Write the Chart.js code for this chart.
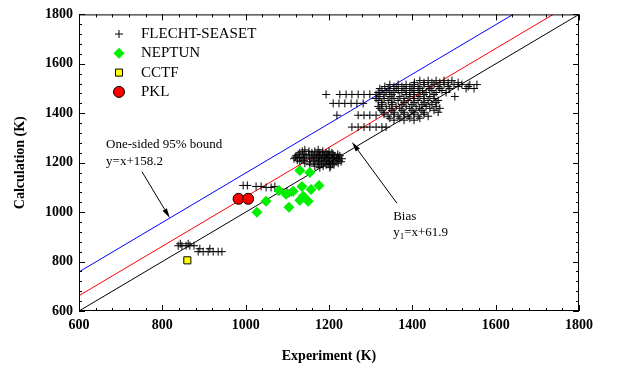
<!DOCTYPE html>
<html>
<head>
<meta charset="utf-8">
<script src="https://cdn.jsdelivr.net/npm/chart.js@4.4.1/dist/chart.umd.min.js"></script>
<style>
  html, body { margin: 0; padding: 0; background: #fff; }
  #chart { display: block; }
</style>
</head>
<body>
<canvas id="chart" width="619" height="370"></canvas>
<script>
// axis ticks (K)
const tickValues = [600, 800, 1000, 1200, 1400, 1600, 1800];
const minorStep = 40;

// fitted lines: y = x + offset
const biasOffset = 61.9;
const boundOffset = 158.2;

// FLECHT-SEASET, experiment vs calculation (K), row by row
const flechtExp = [
  838, 847, 857, 866, 876, 843, 862,
  886, 898, 910, 922, 934, 943, 890, 914,
  994, 1004, 1025, 1037, 1049, 1061, 1070,
  1078, 1090, 1099, 1104, 1109,
  1142, 1174,
  1136, 1152, 1166, 1185, 1200,
  1130, 1159, 1178, 1193, 1207,
  1126, 1140, 1152, 1171, 1184, 1197, 1210, 1221,
  1121, 1145, 1164, 1178, 1190, 1202, 1214, 1226,
  1119, 1130, 1140, 1159, 1174, 1188, 1198, 1210, 1222,
  1116, 1135, 1154, 1169, 1183, 1195, 1207, 1219, 1231,
  1124, 1140, 1164, 1178, 1193, 1210, 1224,
  1130, 1154, 1174, 1188, 1202, 1217, 1229,
  1142, 1164, 1182, 1198, 1208, 1222,
  1154, 1174, 1193, 1212,
  1166, 1186, 1204,
  1178, 1202,
  1193,
  1226, 1241, 1255, 1270, 1284, 1298,
  1210, 1224, 1238, 1253, 1267, 1282,
  1219,
  1270, 1284, 1298, 1313,
  1255, 1270, 1284, 1298, 1313, 1327, 1337,
  1418, 1438, 1457, 1476, 1495,
  1405, 1428, 1447, 1466, 1486, 1510,
  1346, 1366, 1385, 1404, 1428, 1452, 1476, 1500, 1519, 1538, 1555,
  1334, 1356, 1375, 1394, 1414, 1438, 1462, 1486, 1510, 1534,
  1322, 1342, 1361, 1380, 1399, 1418, 1442, 1466, 1490, 1529, 1548,
  1327, 1346, 1366, 1385, 1404, 1424, 1447, 1471,
  1318, 1337, 1356, 1375, 1394, 1414, 1433, 1457, 1481,
  1313, 1332, 1351, 1385, 1404, 1428, 1452,
  1322, 1346, 1370, 1394, 1418, 1442, 1502,
  1313, 1332, 1356, 1380, 1404, 1428, 1452,
  1318, 1342, 1366, 1390, 1414, 1438, 1462,
  1327, 1351, 1380, 1404, 1428, 1457,
  1327, 1351, 1375, 1399, 1423, 1447,
  1318, 1337, 1361, 1385, 1409, 1433, 1457,
  1322, 1346, 1370, 1394, 1418, 1442, 1466,
  1327, 1351, 1375, 1399, 1423, 1452,
  1332, 1356, 1380, 1404, 1428, 1462,
  1332, 1356, 1380, 1404, 1428,
  1342, 1366, 1390, 1414, 1438,
  1346, 1370, 1394, 1418,
  1356, 1380, 1404
];
const flechtCalc = [
  864, 864, 864, 864, 864, 872, 872,
  840, 840, 840, 840, 840, 840, 852, 852,
  1108, 1108, 1104, 1104, 1100, 1100, 1104,
  1084, 1080, 1084, 1076, 1080,
  1252, 1252,
  1246, 1246, 1246, 1246, 1246,
  1240, 1240, 1240, 1240, 1240,
  1234, 1234, 1234, 1234, 1234, 1234, 1234, 1234,
  1228, 1228, 1228, 1228, 1228, 1228, 1228, 1228,
  1222, 1222, 1222, 1222, 1222, 1222, 1222, 1222, 1222,
  1216, 1216, 1216, 1216, 1216, 1216, 1216, 1216, 1216,
  1210, 1210, 1210, 1210, 1210, 1210, 1210,
  1204, 1204, 1204, 1204, 1204, 1204, 1204,
  1198, 1198, 1198, 1198, 1198, 1198,
  1192, 1192, 1192, 1192,
  1186, 1186, 1186,
  1180, 1180,
  1476,
  1476, 1476, 1476, 1476, 1476, 1476,
  1440, 1440, 1440, 1440, 1440, 1440,
  1392,
  1392, 1392, 1392, 1392,
  1344, 1344, 1344, 1344, 1344, 1344, 1344,
  1532, 1532, 1532, 1532, 1532,
  1524, 1524, 1524, 1524, 1524, 1524,
  1516, 1516, 1516, 1516, 1516, 1516, 1516, 1516, 1516, 1516, 1516,
  1508, 1508, 1508, 1508, 1508, 1508, 1508, 1508, 1508, 1508,
  1500, 1500, 1500, 1500, 1500, 1500, 1500, 1500, 1500, 1500, 1500,
  1492, 1492, 1492, 1492, 1492, 1492, 1492, 1492,
  1484, 1484, 1484, 1484, 1484, 1484, 1484, 1484, 1484,
  1476, 1476, 1476, 1476, 1476, 1476, 1476,
  1468, 1468, 1468, 1468, 1468, 1468, 1468,
  1460, 1460, 1460, 1460, 1460, 1460, 1460,
  1452, 1452, 1452, 1452, 1452, 1452, 1452,
  1444, 1444, 1444, 1444, 1444, 1444,
  1436, 1436, 1436, 1436, 1436, 1436,
  1428, 1428, 1428, 1428, 1428, 1428, 1428,
  1420, 1420, 1420, 1420, 1420, 1420, 1420,
  1412, 1412, 1412, 1412, 1412, 1412,
  1404, 1404, 1404, 1404, 1404, 1404,
  1396, 1396, 1396, 1396, 1396,
  1388, 1388, 1388, 1388, 1388,
  1380, 1380, 1380, 1380,
  1372, 1372, 1372
];

const neptunExp  = [1027, 1049, 1080, 1104, 1097, 1114, 1130, 1154, 1135, 1157, 1176, 1138, 1150, 1130];
const neptunCalc = [1000, 1044, 1088, 1020, 1072, 1084, 1168, 1160, 1104, 1092, 1108, 1064, 1044, 1048];

const cctfExp  = [860];
const cctfCalc = [805];

const pklExp  = [983, 1006];
const pklCalc = [1054, 1054];

const serif = "'Liberation Serif', 'Times New Roman', serif";
const tickFont = { family: serif, size: 14, weight: 'bold' };
const titleFont = { family: serif, size: 14, weight: 'bold' };

const toPoints = (xs, ys) => xs.map((x, i) => ({ x: x, y: ys[i] }));
const lineFor = (off) => [{ x: 600, y: 600 + off }, { x: 1800 - off, y: 1800 }];

const legendItems = [
  { label: 'FLECHT-SEASET', style: 'cross', radius: 4, fill: '#000', stroke: '#000', bw: 1 },
  { label: 'NEPTUN', style: 'rectRot', radius: 5.5, fill: '#00f000', stroke: '#00f000', bw: 0 },
  { label: 'CCTF', style: 'rect', radius: 5, fill: '#ffff00', stroke: '#000', bw: 1 },
  { label: 'PKL', style: 'circle', radius: 5.5, fill: '#ff0000', stroke: '#000', bw: 1 }
];

function arrow(ctx, x1, y1, x2, y2) {
  const a = Math.atan2(y2 - y1, x2 - x1);
  const len = 10, half = 2.5;
  ctx.beginPath();
  ctx.moveTo(x1, y1);
  ctx.lineTo(x2 - Math.cos(a) * len, y2 - Math.sin(a) * len);
  ctx.stroke();
  ctx.beginPath();
  ctx.moveTo(x2, y2);
  ctx.lineTo(x2 - Math.cos(a) * len - Math.sin(a) * half, y2 - Math.sin(a) * len + Math.cos(a) * half);
  ctx.lineTo(x2 - Math.cos(a) * len + Math.sin(a) * half, y2 - Math.sin(a) * len - Math.cos(a) * half);
  ctx.closePath();
  ctx.fill();
}

const decorations = {
  id: 'decorations',
  afterDraw(chart) {
    const { ctx, chartArea: a, scales: { x, y } } = chart;
    ctx.save();
    ctx.strokeStyle = '#000';
    ctx.fillStyle = '#000';
    ctx.lineWidth = 1;

    // frame
    ctx.strokeRect(a.left + 0.5, a.top + 0.5, a.right - a.left - 1, a.bottom - a.top - 1);

    // inward ticks on all sides
    ctx.beginPath();
    for (let v = 600; v <= 1800; v += minorStep) {
      const len = tickValues.includes(v) ? 6 : 3;
      const px = Math.round(x.getPixelForValue(v)) + 0.5;
      const py = Math.round(y.getPixelForValue(v)) + 0.5;
      ctx.moveTo(px, a.bottom); ctx.lineTo(px, a.bottom - len);
      ctx.moveTo(px, a.top); ctx.lineTo(px, a.top + len);
      ctx.moveTo(a.left, py); ctx.lineTo(a.left + len, py);
      ctx.moveTo(a.right, py); ctx.lineTo(a.right - len, py);
    }
    ctx.stroke();

    // legend
    ctx.font = '15px ' + serif;
    ctx.textBaseline = 'middle';
    ctx.textAlign = 'left';
    legendItems.forEach((it, i) => {
      const ly = 34 + i * 19.3;
      ctx.fillStyle = it.fill;
      ctx.strokeStyle = it.stroke;
      ctx.lineWidth = it.bw || 1;
      Chart.helpers.drawPoint(ctx, { pointStyle: it.style, radius: it.radius, rotation: 0, borderWidth: it.bw }, 119, ly);
      ctx.fillStyle = '#000';
      ctx.fillText(it.label, 141, ly);
    });

    // annotations
    ctx.strokeStyle = '#000';
    ctx.fillStyle = '#000';
    ctx.lineWidth = 1;
    ctx.font = '13px ' + serif;
    ctx.fillText('One-sided 95% bound', x.getPixelForValue(665), y.getPixelForValue(1272));
    ctx.fillText('y=x+158.2', x.getPixelForValue(665), y.getPixelForValue(1204));
    arrow(ctx, x.getPixelForValue(751), y.getPixelForValue(1164), x.getPixelForValue(818), y.getPixelForValue(976));

    const bx = x.getPixelForValue(1354);
    ctx.fillText('Bias', bx, y.getPixelForValue(984));
    const by = y.getPixelForValue(916);
    ctx.fillText('y', bx, by);
    const yw = ctx.measureText('y').width;
    ctx.font = '9px ' + serif;
    ctx.fillText('1', bx + yw, by + 4);
    const sw = ctx.measureText('1').width;
    ctx.font = '13px ' + serif;
    ctx.fillText('=x+61.9', bx + yw + sw, by);
    arrow(ctx, x.getPixelForValue(1363), y.getPixelForValue(1036), x.getPixelForValue(1255), y.getPixelForValue(1284));
    ctx.restore();
  }
};

new Chart(document.getElementById('chart'), {
  type: 'scatter',
  data: {
    datasets: [
      { type: 'line', data: lineFor(0), borderColor: '#000', borderWidth: 1, pointRadius: 0, order: 10 },
      { type: 'line', data: lineFor(biasOffset), borderColor: '#ff0000', borderWidth: 1, pointRadius: 0, order: 10 },
      { type: 'line', data: lineFor(boundOffset), borderColor: '#0000ff', borderWidth: 1, pointRadius: 0, order: 10 },
      { label: 'FLECHT-SEASET', data: toPoints(flechtExp, flechtCalc), pointStyle: 'cross', pointRadius: 4,
        borderColor: '#000', borderWidth: 1, order: 4 },
      { label: 'NEPTUN', data: toPoints(neptunExp, neptunCalc), pointStyle: 'rectRot', pointRadius: 5.5,
        backgroundColor: '#00f000', borderWidth: 0, order: 3 },
      { label: 'CCTF', data: toPoints(cctfExp, cctfCalc), pointStyle: 'rect', pointRadius: 5,
        backgroundColor: '#ffff00', borderColor: '#000', borderWidth: 1, order: 2 },
      { label: 'PKL', data: toPoints(pklExp, pklCalc), pointStyle: 'circle', pointRadius: 5.5,
        backgroundColor: '#ff0000', borderColor: '#000', borderWidth: 1, order: 1 }
    ]
  },
  options: {
    responsive: false,
    animation: false,
    devicePixelRatio: 1,
    layout: { padding: { top: 11, right: 40, left: 0, bottom: 0 } },
    plugins: { legend: { display: false }, tooltip: { enabled: false } },
    scales: {
      x: {
        type: 'linear', min: 600, max: 1800,
        afterBuildTicks: s => { s.ticks = tickValues.map(v => ({ value: v })); },
        afterFit: s => { s.height = 59; },
        grid: { display: false, drawTicks: false },
        border: { display: false },
        ticks: { font: tickFont, color: '#000', padding: 6, maxRotation: 0, autoSkip: false, callback: v => String(v) },
        title: { display: true, text: 'Experiment (K)', font: titleFont, color: '#000', padding: { top: 0, bottom: 5 } }
      },
      y: {
        type: 'linear', min: 600, max: 1800,
        afterBuildTicks: s => { s.ticks = tickValues.map(v => ({ value: v })); },
        afterFit: s => { s.width = 79; },
        grid: { display: false, drawTicks: false },
        border: { display: false },
        ticks: { font: tickFont, color: '#000', padding: 6, autoSkip: false, callback: v => String(v) },
        title: { display: true, text: 'Calculation (K)', font: titleFont, color: '#000', padding: { top: 12, bottom: 0 } }
      }
    }
  },
  plugins: [decorations]
});
</script>
</body>
</html>
